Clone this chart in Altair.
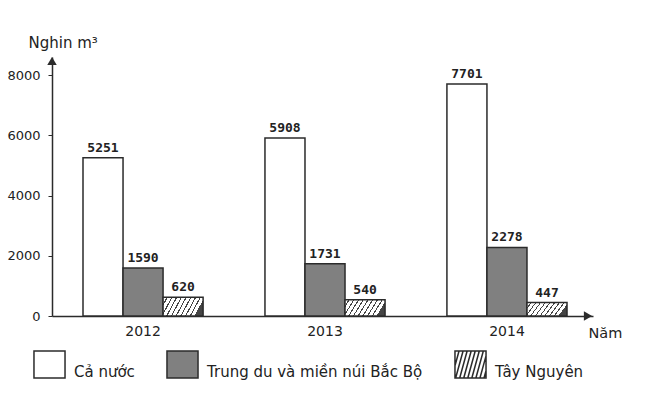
import altair as alt
import pandas as pd

years = ["2012", "2013", "2014"]
series = ["Cả nước", "Trung du và miền núi Bắc Bộ", "Tây Nguyên"]
ca_nuoc = [5251, 5908, 7701]
trung_du = [1590, 1731, 2278]
tay_nguyen = [620, 540, 447]
y_ticks = [0, 2000, 4000, 6000, 8000]

rows = []
for i, yr in enumerate(years):
    for s, vals in zip(series, [ca_nuoc, trung_du, tay_nguyen]):
        rows.append({"year": yr, "series": s, "value": vals[i]})
df = pd.DataFrame(rows)

DARK = "#2b2b2b"
GRAY = "#808080"

# hatch fill as a hard-stop linear gradient
stops = []
N = 9
for i in range(N):
    a, b, c = i / N, (i + 0.75) / N, (i + 1) / N
    stops += [
        {"offset": a, "color": "white"},
        {"offset": b, "color": "white"},
        {"offset": b, "color": "#444444"},
        {"offset": c, "color": "#444444"},
    ]
hatch = {"gradient": "linear", "x1": 0, "y1": 0, "x2": 1, "y2": 0.25, "stops": stops}

# legend symbol paths
sq = "M-1.15,-1H1.15V1H-1.15Z"
lines = []
k = -1.15 - 0.55
while k < 1.15:
    x0, y0, x1, y1 = k, 1.0, k + 0.55, -1.0
    if x0 < -1.15:
        t = (-1.15 - x0) / (x1 - x0)
        x0, y0 = -1.15, y0 + t * (y1 - y0)
    if x1 > 1.15:
        t = (x1 - 1.15) / (x1 - x0)
        x1, y1 = 1.15, y1 - t * (y1 - y0)
    if x1 > x0:
        lines.append(f"M{x0:.3f},{y0:.3f}L{x1:.3f},{y1:.3f}")
    k += 0.3
hatch_path = sq + "".join(lines)

x_enc = alt.X(
    "year:N",
    scale=alt.Scale(paddingInner=0.34, paddingOuter=0.1566, align=0.544),
    axis=alt.Axis(
        title="Năm", labelAngle=0, ticks=False, labelPadding=8,
        labelFont="DejaVu Sans", labelFontSize=14, labelColor="#222",
        domainColor=DARK, domainWidth=1.5,
        titleFont="DejaVu Sans", titleFontSize=14.5, titleFontWeight="normal",
        titleColor="#222", titleX=536, titleY=10, titleAlign="left",
        titleBaseline="top", titleAnchor="start",
    ),
)
y_enc = alt.Y(
    "value:Q",
    scale=alt.Scale(domain=[0, 8600], nice=False),
    axis=alt.Axis(
        values=y_ticks, format="d", grid=False, title="Nghin m³", titleAngle=0,
        titleX=-24, titleY=-10, titleAlign="left", titleBaseline="alphabetic",
        titleFont="DejaVu Sans", titleFontSize=15, titleFontWeight="normal",
        titleColor="#222", labelFont="DejaVu Sans", labelFontSize=13,
        labelColor="#222", tickSize=4, tickColor=DARK, labelPadding=8,
        domainColor=DARK, domainWidth=1.5,
    ),
)
xoff = alt.XOffset("series:N", scale=alt.Scale(domain=series, paddingInner=0, paddingOuter=0))

fill_rule = (
    alt.when(alt.datum.series == series[0]).then(alt.value("white"))
    .when(alt.datum.series == series[1]).then(alt.value(GRAY))
    .otherwise(alt.value(hatch))
)

base = alt.Chart(df)

bars = base.mark_bar(stroke=DARK, strokeWidth=1.5).encode(
    x=x_enc, xOffset=xoff, y=y_enc, fill=fill_rule
)

labels = base.mark_text(
    baseline="bottom", dy=-3, font="DejaVu Sans Mono", fontSize=13,
    fontWeight="bold", color="#222",
).encode(x=x_enc, xOffset=xoff, y=y_enc, text="value:Q")

leg = alt.Legend(
    title=None, orient="none", direction="horizontal", legendX=-17, legendY=293,
    labelFont="DejaVu Sans", labelFontSize=15, labelColor="#222",
    labelBaseline="top", labelOffset=10, columnPadding=28, labelLimit=400,
    symbolSize=729, symbolStrokeWidth=1.5,
)
legend_pts = alt.Chart(pd.DataFrame({"series": series})).mark_point(
    filled=True, clip=True, strokeWidth=1.5, opacity=1
).encode(
    x=alt.value(-500), y=alt.value(-500),
    fill=alt.Fill("series:N", scale=alt.Scale(domain=series, range=["white", GRAY, "white"]), legend=leg),
    stroke=alt.Stroke("series:N", scale=alt.Scale(domain=series, range=[DARK, DARK, DARK]), legend=leg),
    shape=alt.Shape("series:N", scale=alt.Scale(domain=series, range=[sq, sq, hatch_path]), legend=leg),
)

arrows_df = pd.DataFrame({"a": [0]})
y_arrow = alt.Chart(arrows_df).mark_point(shape="triangle-up", filled=True, color=DARK, size=90, opacity=1).encode(
    x=alt.value(0), y=alt.value(4)
)
x_arrow = alt.Chart(arrows_df).mark_point(shape="triangle-right", filled=True, color=DARK, size=90, opacity=1).encode(
    x=alt.value(536), y=alt.value(259)
)

chart = alt.layer(bars, labels, legend_pts, y_arrow, x_arrow).resolve_scale(
    fill="independent", stroke="independent", shape="independent"
).properties(
    width=541, height=259,
    autosize=alt.AutoSizeParams(type="none"),
    padding={"left": 52, "top": 57, "right": 60, "bottom": 87},
).configure(background="white").configure_view(stroke=None)

chart.save("out.html", embed_options={"renderer": "svg", "actions": False})
